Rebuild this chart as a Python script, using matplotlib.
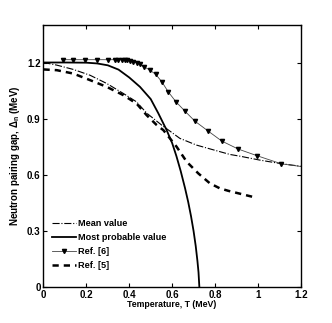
import matplotlib
matplotlib.use("Agg")
import matplotlib.pyplot as plt
import numpy as np

plt.rcParams['font.family'] = ['Liberation Sans', 'DejaVu Sans']
plt.rcParams['font.weight'] = 'bold'
plt.rcParams['mathtext.default'] = 'regular'

# Mean value (dash-dot)
mean_t = [0.0, 0.062, 0.139, 0.217, 0.295, 0.372, 0.434, 0.481, 0.551, 0.636, 0.714, 0.807, 0.87, 0.916, 1.009, 1.103, 1.2]
mean_v = [1.2, 1.186, 1.163, 1.132, 1.088, 1.035, 0.99, 0.93, 0.866, 0.795, 0.759, 0.729, 0.709, 0.7, 0.679, 0.661, 0.646]

# Most probable value (solid)
prob_t = [0.0, 0.1, 0.2, 0.25, 0.3, 0.35, 0.4, 0.45, 0.5, 0.535, 0.574, 0.6, 0.62, 0.64, 0.66, 0.675,
          0.688, 0.70, 0.71, 0.718, 0.723, 0.727]
prob_v = [1.2, 1.2, 1.199, 1.195, 1.185, 1.162, 1.12, 1.07, 1.005, 0.93, 0.84, 0.77, 0.70, 0.62, 0.53, 0.455,
          0.38, 0.30, 0.22, 0.14, 0.08, 0.0]

# Ref. [6] (thin line with triangles)
ref6_t = [0.089, 0.139, 0.193, 0.251, 0.302, 0.333, 0.349, 0.364, 0.38, 0.391, 0.403, 0.419, 0.435,
          0.45, 0.47, 0.497, 0.524, 0.552, 0.582, 0.618, 0.66, 0.706, 0.768, 0.831, 0.908, 0.997, 1.11, 1.2]
ref6_v = [1.215, 1.215, 1.215, 1.215, 1.215, 1.215, 1.215, 1.215, 1.214, 1.213, 1.21, 1.205, 1.198,
          1.19, 1.177, 1.159, 1.136, 1.097, 1.043, 0.99, 0.94, 0.887, 0.834, 0.781, 0.738, 0.702, 0.659, 0.645]

# Ref. [5] (dashed)
ref5_t = [0.0, 0.062, 0.139, 0.217, 0.295, 0.372, 0.434, 0.481, 0.528, 0.559, 0.621, 0.668, 0.722, 0.776, 0.823, 0.862, 0.986]
ref5_v = [1.163, 1.159, 1.141, 1.106, 1.07, 1.026, 0.981, 0.919, 0.866, 0.839, 0.75, 0.67, 0.608, 0.555, 0.528, 0.515, 0.48]

fig = plt.figure(figsize=(3.32, 3.23), dpi=100)
ax = fig.add_axes([0.131, 0.1105, 0.775, 0.812])

ax.plot(mean_t, mean_v, 'k-.', lw=0.8, label='Mean value')
ax.plot(prob_t, prob_v, 'k-', lw=1.3, label='Most probable value')
ax.plot(ref6_t, ref6_v, '-', color='#444444', lw=0.6, marker='v', ms=3,
        mfc='k', mec='k', markevery=list(range(len(ref6_t) - 1)), label='Ref. [6]')
ax.plot(ref5_t, ref5_v, 'k--', lw=1.8, dashes=(2.5, 2), label='Ref. [5]')

ax.set_xlim(0, 1.2)
ax.set_ylim(0, 1.4)
ax.set_xticks([0, 0.2, 0.4, 0.6, 0.8, 1.0, 1.2])
ax.set_xticklabels(['0', '0.2', '0.4', '0.6', '0.8', '1', '1.2'])
ax.set_yticks([0, 0.3, 0.6, 0.9, 1.2])
ax.set_yticklabels(['0', '0.3', '0.6', '0.9', '1.2'])
ax.tick_params(direction='in', top=True, right=True, labelsize=7, length=3, width=0.8, pad=2)
for s in ax.spines.values():
    s.set_linewidth(1.0)

ax.set_xlabel('Temperature, T (MeV)', fontsize=6.3, fontweight='bold', labelpad=0)
ax.set_ylabel(r'Neutron pairing gap, $\Delta_n$ (MeV)', fontsize=7, fontweight='bold', labelpad=4)

ax.legend(loc='lower left', bbox_to_anchor=(0.0, 0.033), frameon=False, fontsize=6.6,
          handlelength=2.7, handletextpad=0.2, labelspacing=0.55)

fig.savefig('out.png', dpi=100)
